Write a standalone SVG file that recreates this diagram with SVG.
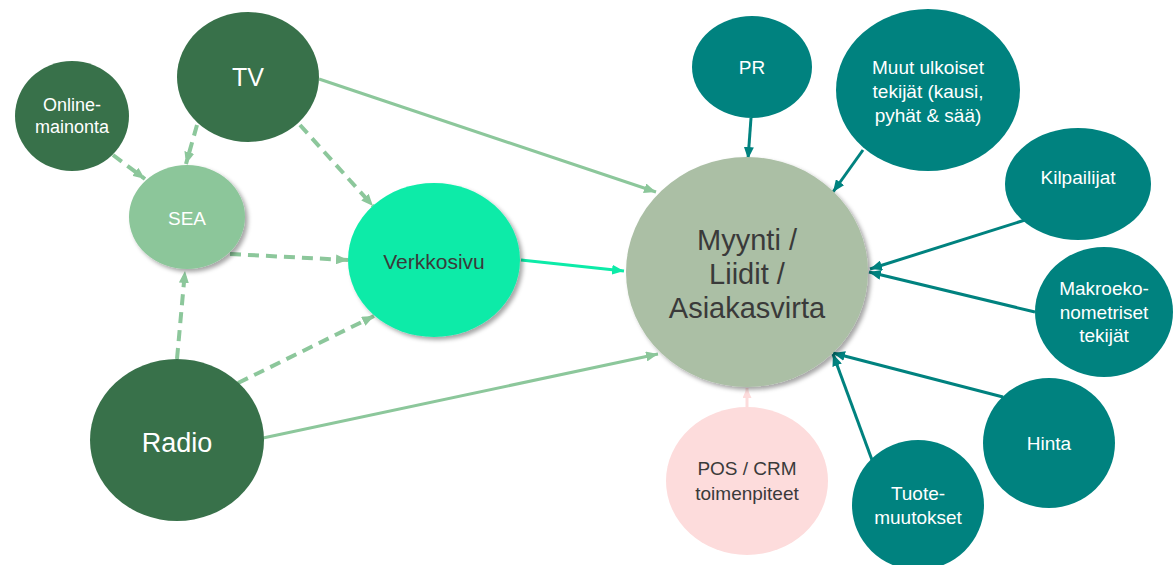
<svg xmlns="http://www.w3.org/2000/svg" width="1173" height="565" viewBox="0 0 1173 565">
<style>
.t{font-family:"Liberation Sans",Arial,sans-serif;text-anchor:middle}
.w{fill:#ffffff}
.d{fill:#3a3a3a}
.dk{fill:#38714a}
.teal{fill:#00827f}
.lg{stroke:#8cc79b;fill:none;stroke-width:3}
.ds{stroke:#8cc79b;fill:none;stroke-width:4;stroke-dasharray:11 7}
.tl{stroke:#00827f;fill:none;stroke-width:3}
</style>
<defs>
<filter id="sh" x="-20%" y="-20%" width="150%" height="150%">
<feDropShadow dx="3" dy="3" stdDeviation="2" flood-color="#000" flood-opacity="0.35"/>
</filter>
<marker id="aLG" markerUnits="userSpaceOnUse" markerWidth="12" markerHeight="10" refX="12" refY="5" orient="auto"><path d="M0,0 L12,5 L0,10 z" fill="#8cc79b"/></marker>
<marker id="aBG" markerUnits="userSpaceOnUse" markerWidth="12" markerHeight="10" refX="12" refY="5" orient="auto"><path d="M0,0 L12,5 L0,10 z" fill="#0ceba8"/></marker>
<marker id="aTL" markerUnits="userSpaceOnUse" markerWidth="12" markerHeight="10" refX="12" refY="5" orient="auto"><path d="M0,0 L12,5 L0,10 z" fill="#00827f"/></marker>
<marker id="aPK" markerUnits="userSpaceOnUse" markerWidth="10" markerHeight="9" refX="10" refY="4.5" orient="auto"><path d="M0,0 L10,4.5 L0,9 z" fill="#fddcdc"/></marker>
</defs>
<g id="connectors">
<line class="lg" x1="319" y1="79" x2="656" y2="192" marker-end="url(#aLG)"/>
<line stroke="#0ceba8" stroke-width="3" x1="521" y1="260" x2="624" y2="271" marker-end="url(#aBG)"/>
<line class="lg" x1="263" y1="438" x2="658" y2="354" marker-end="url(#aLG)"/>
<line class="ds" x1="197" y1="125" x2="186" y2="164" marker-end="url(#aLG)"/>
<line class="ds" x1="300" y1="125" x2="373" y2="206" marker-end="url(#aLG)"/>
<line class="ds" x1="113" y1="155" x2="145" y2="179" marker-end="url(#aLG)"/>
<line class="ds" x1="230" y1="254" x2="348" y2="260" marker-end="url(#aLG)"/>
<line class="ds" x1="177" y1="359" x2="185" y2="271" marker-end="url(#aLG)"/>
<line class="ds" x1="238" y1="383" x2="374" y2="316" marker-end="url(#aLG)"/>
<line class="tl" x1="751" y1="118" x2="748" y2="159" marker-end="url(#aTL)"/>
<line class="tl" x1="863" y1="150" x2="833" y2="192" marker-end="url(#aTL)"/>
<line class="tl" x1="1025" y1="220" x2="870" y2="269" marker-end="url(#aTL)"/>
<line class="tl" x1="1035" y1="312" x2="869" y2="272" marker-end="url(#aTL)"/>
<line class="tl" x1="1003" y1="397" x2="833" y2="353" marker-end="url(#aTL)"/>
<line class="tl" x1="872" y1="460" x2="833" y2="354" marker-end="url(#aTL)"/>
<line stroke="#fddcdc" stroke-width="3" x1="747" y1="408" x2="747" y2="388" marker-end="url(#aPK)"/>
</g>
<g id="online">
<ellipse class="dk" cx="72" cy="116" rx="57" ry="55"/>
<text class="t w" x="72" y="111" font-size="18">Online-</text>
<text class="t w" x="72" y="133" font-size="18">mainonta</text>
</g>
<g id="tv">
<ellipse class="dk" cx="248" cy="77" rx="71" ry="65"/>
<text class="t w" x="248" y="86" font-size="25">TV</text>
</g>
<g id="sea">
<ellipse fill="#8cc69a" cx="187" cy="217" rx="58" ry="52" filter="url(#sh)"/>
<text class="t w" x="187" y="225" font-size="19">SEA</text>
</g>
<g id="verkkosivu">
<ellipse fill="#0ceba8" cx="434" cy="260" rx="86" ry="77" filter="url(#sh)"/>
<text class="t d" x="434" y="269" font-size="21">Verkkosivu</text>
</g>
<g id="radio">
<ellipse class="dk" cx="177" cy="440" rx="87" ry="81"/>
<text class="t w" x="177" y="452" font-size="27">Radio</text>
</g>
<g id="myynti">
<ellipse fill="#abbfa5" cx="747" cy="272" rx="121" ry="115" filter="url(#sh)"/>
<text class="t d" x="747" y="250" font-size="29">Myynti /</text>
<text class="t d" x="747" y="284" font-size="29">Liidit /</text>
<text class="t d" x="747" y="318" font-size="29">Asiakasvirta</text>
</g>
<g id="pr">
<ellipse class="teal" cx="752" cy="67" rx="60" ry="51"/>
<text class="t w" x="752" y="74" font-size="19">PR</text>
</g>
<g id="muut">
<ellipse class="teal" cx="928" cy="90" rx="92" ry="81"/>
<text class="t w" x="928" y="74" font-size="19">Muut ulkoiset</text>
<text class="t w" x="928" y="98" font-size="19">tekijät (kausi,</text>
<text class="t w" x="928" y="122" font-size="19">pyhät &amp; sää)</text>
</g>
<g id="kilpailijat">
<ellipse class="teal" cx="1078" cy="184" rx="73" ry="56"/>
<text class="t w" x="1078" y="184" font-size="19">Kilpailijat</text>
</g>
<g id="makro">
<ellipse class="teal" cx="1104" cy="312" rx="69" ry="65"/>
<text class="t w" x="1104" y="295" font-size="19">Makroeko-</text>
<text class="t w" x="1104" y="319" font-size="19">nometriset</text>
<text class="t w" x="1104" y="342" font-size="19">tekijät</text>
</g>
<g id="hinta">
<ellipse class="teal" cx="1049" cy="443" rx="66" ry="65"/>
<text class="t w" x="1049" y="450" font-size="19">Hinta</text>
</g>
<g id="tuote">
<ellipse class="teal" cx="918" cy="505" rx="66" ry="65"/>
<text class="t w" x="918" y="500" font-size="19">Tuote-</text>
<text class="t w" x="918" y="524" font-size="19">muutokset</text>
</g>
<g id="pos">
<ellipse fill="#fddcdc" cx="747" cy="481" rx="81" ry="74"/>
<text class="t d" x="747" y="475" font-size="19">POS / CRM</text>
<text class="t d" x="747" y="500" font-size="19">toimenpiteet</text>
</g>
</svg>
